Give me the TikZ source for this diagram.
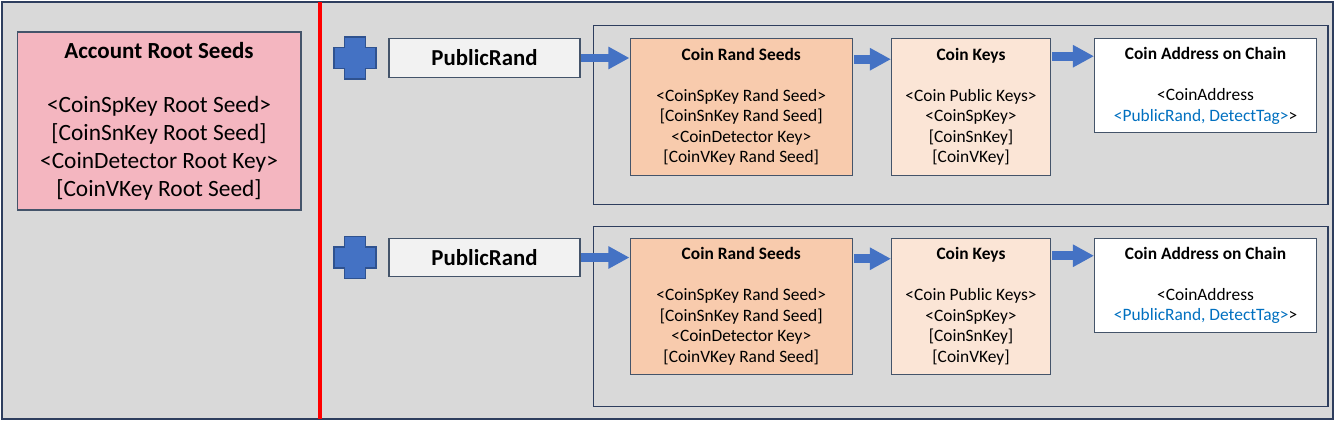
\documentclass[tikz,border=0pt]{standalone}
\usepackage{fontspec}
\setmainfont{Carlito}
\usepackage{xcolor}
\usepackage{tikz}
\usetikzlibrary{arrows.meta,positioning,calc}
\definecolor{panelgray}{HTML}{D9D9D9}
\definecolor{frameline}{HTML}{2E3E5E}
\definecolor{boxline}{HTML}{44546A}
\definecolor{rootpink}{HTML}{F4B6C0}
\definecolor{seedpeach}{HTML}{F8CBAD}
\definecolor{keypeach}{HTML}{FBE5D6}
\definecolor{randgray}{HTML}{F2F2F2}
\definecolor{arrowblue}{HTML}{4472C4}
\definecolor{plusline}{HTML}{2F528F}
\definecolor{linkblue}{HTML}{0070C0}
\tikzset{
  keybox/.style={
    rectangle, draw=boxline, line width=0.6pt,
    align=center, font=\fontsize{9.9}{11.7}\selectfont, inner sep=2pt
  },
  rootbox/.style={keybox, fill=rootpink, minimum width=5.68cm, minimum height=3.56cm,
    font=\fontsize{13.3}{15.9}\selectfont},
  randbox/.style={keybox, fill=randgray, minimum width=3.82cm, minimum height=0.77cm,
    font=\fontsize{13}{15}\selectfont\bfseries},
  seedbox/.style={keybox, fill=seedpeach, minimum width=4.45cm, minimum height=2.73cm},
  coinkeybox/.style={keybox, fill=keypeach, minimum width=3.18cm, minimum height=2.73cm},
  addrbox/.style={keybox, fill=white, minimum width=4.44cm, minimum height=1.88cm},
  outerframe/.style={draw=frameline, line width=0.8pt, fill=panelgray},
  groupframe/.style={draw=frameline, line width=0.8pt},
  redline/.style={draw=red, line width=1.8pt},
  plusfill/.style={fill=arrowblue, draw=plusline, line width=0.7pt},
  blockarrow/.style={draw=arrowblue, line width=5pt, -{Triangle[length=12pt,width=12pt]}},
}
\newcommand\plusmark[1]{%
  \draw[plusfill] (#1) ++(-10.5,21) -- ++(21,0) -- ++(0,-10.5) -- ++(10.5,0)
    -- ++(0,-21) -- ++(-10.5,0) -- ++(0,-10.5) -- ++(-21,0) -- ++(0,10.5)
    -- ++(-10.5,0) -- ++(0,21) -- ++(10.5,0) -- cycle;}

\begin{document}
\begin{tikzpicture}[x=0.02cm, y=0.02cm]
  \useasboundingbox (0,0) rectangle (1335,423);
  \draw[outerframe] (2,4) rectangle (1333,421);
  \node (acc) [rootbox] at (159,302) {{\fontsize{13.1}{15.9}\selectfont\bfseries Account Root Seeds}\\[14.8pt]
    <CoinSpKey Root Seed>\\{}[CoinSnKey Root Seed]\\<CoinDetector Root Key>\\{}[CoinVKey Root Seed]};
  \draw[redline] (320,4) -- (320,421);
  % first row
  \node (pr)  [randbox] at (484.5,365) {PublicRand};
  \node (crs) [seedbox, right=0.98cm of pr.north east, anchor=north west] {\textbf{Coin Rand Seeds}\\[11.6pt]
    <CoinSpKey Rand Seed>\\{}[CoinSnKey Rand Seed]\\<CoinDetector Key>\\{}[CoinVKey Rand Seed]};
  \node (ck)  [coinkeybox, right=0.76cm of crs] {\textbf{Coin Keys}\\[11.6pt]
    <Coin Public Keys>\\<CoinSpKey>\\{}[CoinSnKey]\\{}[CoinVKey]};
  \node (ca)  [addrbox, right=0.86cm of ck.north east, anchor=north west] {\textbf{Coin Address on Chain}\\[11.6pt]
    <CoinAddress\\\textcolor{linkblue}{<PublicRand, DetectTag>}>};
  \draw[groupframe] ($(crs.north west)+(-36,13)$) rectangle ($(ca.east |- crs.south)+(11,-29)$);
  \plusmark{$(pr.west)+(-33.5,0)$}
  % second row
  \node (pr2)  [randbox, below=3.2cm of pr] {PublicRand};
  \node (crs2) [seedbox, right=0.98cm of pr2.north east, anchor=north west] {\textbf{Coin Rand Seeds}\\[11.6pt]
    <CoinSpKey Rand Seed>\\{}[CoinSnKey Rand Seed]\\<CoinDetector Key>\\{}[CoinVKey Rand Seed]};
  \node (ck2)  [coinkeybox, right=0.76cm of crs2] {\textbf{Coin Keys}\\[11.6pt]
    <Coin Public Keys>\\<CoinSpKey>\\{}[CoinSnKey]\\{}[CoinVKey]};
  \node (ca2)  [addrbox, right=0.86cm of ck2.north east, anchor=north west] {\textbf{Coin Address on Chain}\\[11.6pt]
    <CoinAddress\\\textcolor{linkblue}{<PublicRand, DetectTag>}>};
  \draw[groupframe] ($(crs2.north west)+(-36,11)$) rectangle ($(ca2.east |- crs2.south)+(11,-31)$);
  \plusmark{$(pr2.west)+(-33.5,0)$}
  % arrows
  \coordinate (a2) at ($(crs.north east)+(1,-21)$);
  \coordinate (a3) at ($(ck.north east)+(1,-18)$);
  \coordinate (b2) at ($(crs2.north east)+(1,-21)$);
  \coordinate (b3) at ($(ck2.north east)+(1,-18)$);
  \draw[blockarrow] (pr.east) -- (pr.east -| crs.west);
  \draw[blockarrow] (a2) -- (a2 -| ck.west);
  \draw[blockarrow] (a3) -- (a3 -| ca.west);
  \draw[blockarrow] (pr2.east) -- (pr2.east -| crs2.west);
  \draw[blockarrow] (b2) -- (b2 -| ck2.west);
  \draw[blockarrow] (b3) -- (b3 -| ca2.west);
\end{tikzpicture}
\end{document}
